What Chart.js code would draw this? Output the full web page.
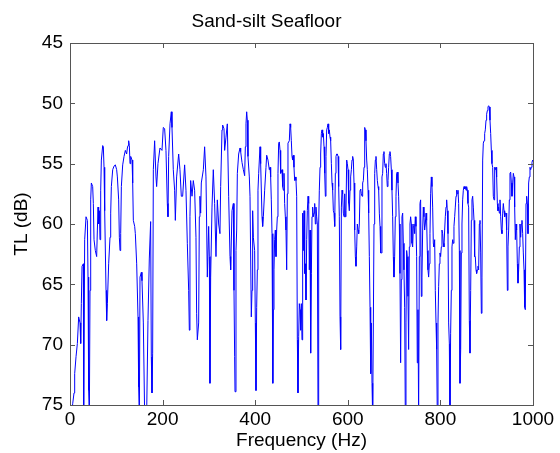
<!DOCTYPE html>
<html>
<head>
<meta charset="utf-8">
<title>Sand-silt Seafloor</title>
<script src="https://cdn.jsdelivr.net/npm/chart.js@4.4.1/dist/chart.umd.min.js"></script>
<style>
  html, body { margin: 0; padding: 0; background: #fff; }
  canvas { display: block; }
</style>
</head>
<body>
<canvas id="tlChart" width="560" height="453"></canvas>
<script>
// frequency (Hz) and transmission loss (dB)
var freq = [
    3, 5.8, 8.7, 10.1, 13.0, 15.9, 18.7, 21.6, 23.1, 24.5,
    26.0, 28.8, 29.5, 31.7, 34.6, 37.5, 38.9, 40.3, 41.8, 43.2,
    44.7, 46.1, 49.0, 50.4, 51.9, 54.7, 57.6, 59.1, 60.5, 61.9,
    63.4, 64.8, 66.3, 67.7, 70.6, 72.0, 73.5, 74.9, 77.8, 79.2,
    80.7, 83.5, 86.4, 87.9, 89.3, 92.2, 95.1, 97.9, 100.8, 102.3,
    105.1, 106.6, 108.0, 109.5, 110.9, 113.8, 116.7, 119.5, 122.4, 123.9,
    125.3, 126.7, 128.2, 129.6, 131.1, 134.0, 135.4, 136.8, 139.7, 141.1,
    144.0, 146.9, 148.3, 149.8, 151.2, 154.1, 155.5, 158.4, 161.3, 165.5,
    168.4, 171.3, 174.2, 175.6, 177.1, 178.5, 180.0, 182.8, 185.7, 187.1,
    190.0, 194.3, 198.7, 201.5, 204.4, 207.3, 210.2, 211.6, 213.1, 216.0,
    218.8, 220.3, 223.1, 226.0, 227.5, 230.3, 234.7, 237.5, 240.4, 243.3,
    247.6, 250.5, 253.4, 256.3, 257.7, 259.1, 260.6, 263.5, 266.3, 269.2,
    272.1, 273.5, 275.0, 277.9, 279.3, 280.7, 282.2, 283.6, 288.0, 290.8,
    293.7, 295.1, 296.6, 299.5, 300.9, 302.3, 303.8, 306.7, 309.5, 312.4,
    315.3, 318.2, 321.1, 323.9, 325.4, 328.3, 329.7, 332.6, 334.0, 336.9,
    339.8, 342.7, 345.6, 347.0, 349.9, 352.8, 354.2, 355.6, 356.4, 358.5,
    360.0, 361.4, 364.3, 367.2, 368.6, 371.5, 374.4, 377.2, 378.7, 380.1,
    381.6, 383.0, 384.4, 387.3, 388.8, 391.6, 393.1, 394.5, 396.0, 398.8,
    400.3, 401.7, 403.2, 404.6, 406.0, 407.5, 410.4, 411.8, 414.7, 416.1,
    417.6, 420.4, 423.3, 424.8, 427.6, 430.5, 432.0, 433.4, 434.8, 436.3,
    437.7, 438.4, 439.2, 440.6, 442.0, 443.5, 444.9, 446.4, 447.8, 449.2,
    450.7, 452.1, 453.6, 455.0, 457.9, 459.3, 460.8, 462.2, 463.6, 465.1,
    466.5, 468.0, 469.4, 470.8, 473.7, 475.2, 476.6, 478.0, 479.5, 480.9,
    482.4, 483.8, 485.2, 486.7, 488.1, 489.6, 491.0, 492.4, 493.9, 495.3,
    496.8, 498.2, 499.6, 501.1, 502.5, 504.0, 505.4, 506.9, 508.3, 509.7,
    511.2, 512.6, 514.1, 515.5, 516.9, 518.4, 519.8, 521.3, 522.7, 524.1,
    525.6, 527.0, 528.5, 529.9, 531.3, 532.8, 534.2, 535.7, 537.1, 538.5,
    540.0, 541.4, 542.9, 544.3, 545.7, 547.2, 548.6, 550.1, 551.5, 552.9,
    554.4, 555.8, 557.3, 558.7, 560.1, 561.6, 563.0, 564.5, 565.9, 567.3,
    568.8, 570.2, 571.7, 573.1, 574.5, 576.0, 577.4, 578.9, 580.3, 581.7,
    583.2, 584.6, 586.1, 587.5, 588.9, 590.4, 591.8, 593.3, 594.7, 596.1,
    597.6, 599.0, 600.5, 601.9, 603.3, 604.8, 606.2, 607.7, 609.1, 610.5,
    612.0, 613.4, 614.9, 616.3, 617.7, 619.2, 620.6, 622.1, 623.5, 624.9,
    626.4, 627.8, 629.3, 630.7, 632.1, 633.6, 635.0, 636.5, 637.9, 639.3,
    640.8, 642.2, 643.7, 645.1, 646.5, 648.0, 649.4, 650.9, 652.3, 653.7,
    655.2, 656.6, 658.1, 659.5, 660.9, 662.4, 663.8, 665.3, 666.7, 668.1,
    669.6, 671.0, 672.5, 673.8, 675.3, 676.7, 678.1, 679.6, 681.0, 682.5,
    683.9, 685.3, 686.8, 688.2, 689.7, 691.1, 692.5, 694.0, 695.4, 696.9,
    698.3, 699.7, 701.2, 702.6, 704.1, 705.5, 706.9, 708.4, 709.8, 711.3,
    712.7, 714.1, 715.6, 717.0, 718.5, 719.9, 721.3, 722.8, 724.2, 725.7,
    727.1, 728.5, 730.0, 731.4, 732.9, 734.3, 735.7, 737.2, 738.6, 740.1,
    741.5, 742.9, 744.4, 745.8, 747.3, 748.7, 750.1, 751.6, 753.0, 754.5,
    755.9, 757.3, 758.8, 760.2, 761.7, 763.1, 764.5, 766.0, 767.4, 768.9,
    770.3, 771.7, 773.2, 774.6, 776.1, 777.5, 778.9, 780.4, 781.8, 783.3,
    784.7, 786.1, 787.6, 789.0, 790.5, 791.9, 793.3, 794.8, 796.2, 797.7,
    799.1, 800.5, 802.0, 803.4, 804.9, 806.3, 807.7, 809.2, 810.6, 812.1,
    813.5, 814.9, 816.4, 817.8, 819.3, 820.7, 822.1, 823.6, 825.0, 826.5,
    827.9, 829.3, 830.8, 832.2, 833.7, 835.1, 836.5, 838.0, 839.4, 840.9,
    842.3, 843.8, 845.2, 846.6, 848.1, 849.5, 851.0, 852.4, 853.8, 855.3,
    856.7, 858.2, 859.6, 861.0, 862.5, 863.9, 865.4, 866.8, 868.2, 869.7,
    871.1, 872.6, 874.0, 875.4, 876.9, 878.3, 879.8, 881.2, 882.6, 884.1,
    885.5, 887.0, 888.4, 889.8, 891.3, 892.7, 894.2, 895.6, 897.0, 898.5,
    899.9, 901.4, 902.8, 904.2, 905.7, 907.1, 908.6, 910.0, 911.4, 912.9,
    914.3, 915.8, 917.2, 918.6, 920.1, 921.5, 923.0, 924.4, 925.8, 927.3,
    928.7, 930.2, 931.6, 933.0, 934.5, 935.9, 937.4, 938.8, 940.2, 941.7,
    943.1, 944.6, 946.0, 947.4, 948.9, 950.3, 951.8, 953.2, 954.6, 956.1,
    957.5, 959.0, 960.4, 961.8, 963.3, 964.7, 966.2, 967.6, 969.0, 970.5,
    971.9, 973.4, 974.8, 976.2, 977.7, 979.1, 980.6, 982.0, 983.4, 984.9,
    986.3, 987.8, 989.2, 990.6, 992.1, 993.5, 995.0, 996.4, 997.8, 999.3
];
var tl = [
    76, 74.9, 74.0, 72.4, 71.0, 69.9, 67.7, 68.2, 69.9, 66.6,
    63.5, 63.3, 76, 61.3, 59.4, 59.7, 64.4, 73.8, 76, 65.5,
    58.0, 56.6, 56.9, 58.3, 61.3, 62.2, 62.7, 60.5, 58.6, 60.0,
    58.9, 61.3, 57.2, 54.7, 53.5, 53.6, 55.3, 58.9, 65.5, 68.0,
    66.6, 63.3, 61.1, 59.1, 56.9, 55.5, 55.2, 55.1, 55.5, 56.1,
    58.0, 61.1, 62.2, 60.8, 56.9, 55.1, 54.4, 53.9, 54.2, 53.7,
    53.5, 53.1, 53.5, 55.0, 54.4, 54.7, 56.6, 59.7, 60.2, 60.8,
    63.3, 67.7, 73.5, 76, 64.4, 64.0, 64.7, 68.2, 76, 76,
    68.0, 62.9, 59.8, 71.0, 74.0, 70.7, 55.5, 53.1, 56.1, 56.9,
    55.0, 53.7, 53.9, 52.0, 52.1, 53.9, 58.3, 59.4, 54.4, 51.7,
    50.7, 52.0, 55.5, 57.2, 59.7, 56.1, 54.2, 55.5, 57.7, 57.7,
    55.1, 57.2, 61.6, 65.5, 68.8, 59.4, 56.4, 57.7, 56.4, 57.2,
    61.1, 67.4, 69.6, 68.2, 59.4, 57.7, 59.1, 56.6, 55.5, 53.6,
    56.1, 60.0, 64.4, 60.2, 62.7, 73.2, 64.4, 58.6, 55.5, 58.3,
    62.7, 58.0, 60.0, 60.8, 56.9, 52.2, 51.8, 52.1, 53.9, 52.8,
    51.7, 57.7, 62.7, 63.8, 58.9, 58.3, 65.5, 71.0, 73.9, 62.2,
    60.5, 55.8, 54.2, 53.7, 54.0, 54.9, 55.5, 56.0, 53.6, 51.7,
    50.7, 51.4, 54.4, 56.1, 57.7, 67.7, 65.5, 58.9, 61.1, 62.2,
    68.2, 73.8, 66.9, 63.8, 57.2, 55.8, 53.6, 55.0, 59.4, 60.2,
    59.4, 57.2, 55.3, 54.3, 54.7, 55.5, 55.3, 56.1, 58.0, 60.8,
    65.5, 73.2, 67.1, 63.8, 61.3, 60.5, 62.7, 60.5, 59.4, 55.8,
    53.3, 53.2, 53.9, 55.8, 55.5, 56.9, 57.2, 55.8, 58.3, 59.4,
    60.5, 63.8, 57.5, 53.3, 53.1, 51.7, 52.0, 53.1, 54.4, 54.7,
    54.3, 55.3, 56.4, 56.1, 56.4, 57.7, 69.6, 74.0, 69.3, 66.6,
    67.1, 68.8, 66.6, 69.6, 59.1, 62.2, 58.9, 64.1, 63.3, 66.3,
    61.3, 58.9, 57.7, 58.3, 63.8, 60.5, 70.7, 64.1, 59.4, 58.6,
    59.4, 59.1, 58.3, 60.0, 58.6, 59.4, 60.0, 76, 60.0, 57.2,
    55.3, 54.2, 52.5, 52.2, 52.8, 52.5, 53.6, 55.8, 57.7, 54.4,
    52.2, 52.0, 51.7, 52.5, 52.2, 52.8, 53.1, 55.0, 56.6, 57.2,
    58.9, 59.1, 60.2, 55.8, 54.4, 54.2, 54.2, 54.4, 56.9, 59.4,
    67.7, 70.4, 58.6, 57.2, 57.5, 59.1, 59.4, 57.5, 59.4, 58.9,
    54.7, 55.0, 55.5, 58.3, 58.9, 57.2, 56.1, 55.5, 54.7, 54.4,
    54.7, 56.6, 60.5, 62.7, 63.5, 61.9, 60.0, 60.5, 60.8, 60.0,
    57.2, 57.1, 57.5, 57.7, 56.6, 56.4, 55.3, 52.0, 52.2, 53.1,
    54.7, 55.5, 57.2, 59.1, 62.7, 66.9, 72.4, 68.2, 73.2, 76,
    68.2, 60.0, 55.8, 54.7, 54.4, 55.5, 56.4, 56.9, 57.2, 59.1,
    60.2, 62.4, 62.4, 56.1, 55.8, 54.2, 54.0, 55.0, 55.3, 55.0,
    55.8, 56.9, 56.4, 55.3, 54.2, 54.0, 54.4, 55.5, 57.2, 59.4,
    62.7, 64.4, 62.7, 59.4, 57.7, 55.8, 55.7, 56.6, 57.7, 60.0,
    64.1, 71.5, 64.6, 59.4, 59.1, 61.6, 63.8, 66.9, 76, 68.2,
    62.2, 62.7, 66.0, 70.4, 61.9, 60.0, 59.4, 60.0, 61.6, 61.9,
    60.2, 60.0, 60.8, 59.4, 60.2, 62.7, 71.5, 67.1, 76, 62.7,
    58.3, 58.0, 66.0, 64.4, 60.5, 58.6, 59.4, 60.5, 60.0, 59.1,
    59.7, 62.2, 63.8, 64.4, 63.3, 60.8, 57.5, 56.1, 56.9, 58.6,
    61.6, 61.9, 61.3, 65.5, 68.2, 70.4, 76, 68.2, 65.2, 63.3,
    62.4, 62.7, 61.9, 60.5, 60.8, 61.6, 61.9, 60.5, 59.4, 58.6,
    58.0, 58.9, 60.8, 68.2, 69.9, 76, 69.1, 65.5, 61.9, 61.3,
    61.6, 60.2, 59.4, 58.6, 57.7, 57.2, 57.5, 57.2, 58.3, 62.2,
    73.2, 70.4, 62.4, 60.0, 58.0, 57.2, 56.9, 57.1, 56.9, 57.2,
    56.9, 57.2, 58.3, 58.6, 68.0, 70.7, 65.5, 59.7, 58.0, 57.7,
    58.6, 59.7, 62.7, 62.7, 63.8, 64.1, 63.8, 63.5, 63.8, 60.0,
    59.7, 62.4, 67.4, 64.4, 54.7, 53.3, 53.1, 52.5, 52.2, 51.4,
    50.9, 50.6, 50.3, 50.2, 50.3, 51.4, 52.5, 53.9, 55.0, 55.3,
    57.7, 58.0, 55.3, 55.5, 55.3, 56.1, 58.3, 58.9, 58.6, 59.1,
    58.0, 59.4, 60.5, 60.8, 59.1, 58.3, 58.9, 59.4, 59.1, 59.1,
    60.5, 65.5, 61.9, 60.5, 58.0, 55.8, 55.7, 56.6, 57.7, 56.6,
    55.8, 56.1, 58.6, 61.3, 60.0, 60.5, 63.3, 64.9, 63.8, 61.9,
    60.0, 61.1, 60.0, 59.7, 60.8, 62.4, 63.8, 66.9, 67.1, 58.3,
    57.7, 58.3, 60.8, 56.6, 56.1, 55.3, 55.5, 55.3, 54.9, 54.7
];
// axis ranges and ticks
var xTicks = [0, 200, 400, 600, 800, 1000];
var yTicks = [45, 50, 55, 60, 65, 70, 75];

var points = freq.map(function (f, i) { return { x: f, y: tl[i] }; });

Chart.defaults.font.family = "'Liberation Sans', Arial, sans-serif";
Chart.defaults.font.size = 19;
Chart.defaults.color = '#000';

// matlab style box with inward tick marks on all four sides
var boxPlugin = {
    id: 'matlabBox',
    afterDatasetsDraw: function (chart) {
        var ctx = chart.ctx;
        var a = chart.chartArea;
        var xs = chart.scales.x, ys = chart.scales.y;
        var len = 5;
        ctx.save();
        ctx.strokeStyle = '#555';
        ctx.lineWidth = 1;
        ctx.strokeRect(Math.round(a.left) + 0.5, Math.round(a.top) + 0.5,
            Math.round(a.right - a.left), Math.round(a.bottom - a.top));
        ctx.beginPath();
        xTicks.forEach(function (v) {
            var px = Math.round(xs.getPixelForValue(v)) + 0.5;
            ctx.moveTo(px, a.bottom); ctx.lineTo(px, a.bottom - len);
            ctx.moveTo(px, a.top); ctx.lineTo(px, a.top + len);
        });
        yTicks.forEach(function (v) {
            var py = Math.round(ys.getPixelForValue(v)) + 0.5;
            ctx.moveTo(a.left, py); ctx.lineTo(a.left + len, py);
            ctx.moveTo(a.right, py); ctx.lineTo(a.right - len, py);
        });
        ctx.stroke();
        ctx.restore();
    }
};

var ctx = document.getElementById('tlChart').getContext('2d');
var tlChart = new Chart(ctx, {
    type: 'line',
    data: {
        datasets: [{
            label: 'TL',
            data: points,
            borderColor: '#0000ff',
            borderWidth: 1,
            pointRadius: 0,
            tension: 0,
            fill: false,
            clip: 0
        }]
    },
    options: {
        responsive: false,
        animation: false,
        layout: { padding: { left: 0, right: 27, top: 0, bottom: 0 } },
        plugins: {
            legend: { display: false },
            tooltip: { enabled: false },
            title: {
                display: true,
                text: 'Sand-silt Seafloor',
                font: { size: 19, weight: 'normal' },
                padding: { top: 10.6, bottom: 9.6 }
            }
        },
        scales: {
            x: {
                type: 'linear',
                min: 0,
                max: 1000,
                grid: { display: false, drawTicks: false },
                border: { display: false },
                ticks: {
                    stepSize: 200,
                    maxRotation: 0,
                    autoSkip: false,
                    padding: 3,
                    callback: function (v) { return String(v); }
                },
                title: {
                    display: true,
                    text: 'Frequency (Hz)',
                    padding: { top: 0, bottom: 0.6 }
                },
                afterFit: function (scale) {
                    scale.height = 48;
                    scale.paddingLeft = 0;
                    scale.paddingRight = 0;
                }
            },
            y: {
                min: 45,
                max: 75,
                reverse: true,
                grid: { display: false, drawTicks: false },
                border: { display: false },
                ticks: { stepSize: 5, padding: 7 },
                title: {
                    display: true,
                    text: 'TL (dB)',
                    padding: { top: 10.6, bottom: 0 }
                },
                afterFit: function (scale) {
                    scale.width = 70;
                    scale.paddingTop = 0;
                    scale.paddingBottom = 0;
                }
            }
        }
    },
    plugins: [boxPlugin]
});
</script>
</body>
</html>
